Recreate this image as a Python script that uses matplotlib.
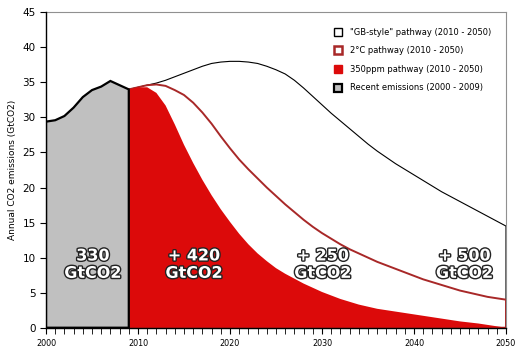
import matplotlib
matplotlib.use("Agg")
import matplotlib.pyplot as plt
import matplotlib.patheffects as pe
from matplotlib.lines import Line2D
from matplotlib.ticker import MultipleLocator

# recent emissions 2000-2009 (GtCO2)
recent_years = list(range(2000, 2010))
recent = [29.4, 29.6, 30.2, 31.4, 32.9, 33.9, 34.4, 35.2, 34.6, 34.0]

# pathways 2009-2050
path_years = list(range(2009, 2051))
gb_style = [34.0, 34.3, 34.6, 34.9, 35.3, 35.8, 36.3, 36.8, 37.3, 37.7,
            37.9, 38.0, 38.0, 37.9, 37.7, 37.3, 36.8, 36.2, 35.3, 34.2,
            33.0, 31.8, 30.6, 29.5, 28.4, 27.3, 26.2, 25.2, 24.3, 23.4,
            22.6, 21.8, 21.0, 20.2, 19.4, 18.7, 18.0, 17.3, 16.6, 15.9,
            15.2, 14.5]
two_deg = [34.0, 34.3, 34.6, 34.7, 34.5, 33.9, 33.2, 32.1, 30.7, 29.1,
           27.3, 25.6, 24.0, 22.6, 21.3, 20.0, 18.8, 17.6, 16.5, 15.4,
           14.4, 13.5, 12.7, 11.9, 11.2, 10.6, 10.0, 9.4, 8.9, 8.4,
           7.9, 7.4, 6.9, 6.5, 6.1, 5.7, 5.3, 5.0, 4.7, 4.4,
           4.2, 4.0]
ppm350 = [34.0, 34.3, 34.3, 33.5, 31.7, 29.0, 26.1, 23.5, 21.1, 18.9,
          16.9, 15.1, 13.4, 11.9, 10.6, 9.5, 8.5, 7.7, 7.0, 6.3,
          5.7, 5.1, 4.6, 4.1, 3.7, 3.3, 3.0, 2.7, 2.5, 2.3,
          2.1, 1.9, 1.7, 1.5, 1.3, 1.1, 0.9, 0.75, 0.6, 0.4,
          0.2, 0.0]

labels = ['"GB-style" pathway (2010 - 2050)', '2°C pathway (2010 - 2050)',
          '350ppm pathway (2010 - 2050)', 'Recent emissions (2000 - 2009)']
totals = ["330\nGtCO2", "+ 420\nGtCO2", "+ 250\nGtCO2", "+ 500\nGtCO2"]
total_x = [2005.1, 2016.1, 2030.1, 2045.5]

red = "#DC0a0a"
darkred = "#A82828"
grey = "#C0C0C0"

fig = plt.figure(figsize=(5.22, 3.48), dpi=100)
ax = fig.add_axes([0.0881, 0.0583, 0.8812, 0.9064])

# GB-style area outline
ax.fill(path_years + [2050, 2009], gb_style + [0, 0], facecolor="white",
        edgecolor="black", linewidth=0.8, zorder=1)
# 2 degree area
ax.fill(path_years + [2050, 2009], two_deg + [0, 0], facecolor="white",
        edgecolor=darkred, linewidth=1.4, zorder=2)
# 350ppm area
ax.fill_between(path_years, ppm350, 0, facecolor=red, edgecolor="none",
                zorder=3)
# recent emissions
ax.fill(recent_years + [2009, 2000], recent + [0, 0], facecolor=grey,
        edgecolor="black", linewidth=1.6, zorder=4)

for x, t in zip(total_x, totals):
    ax.text(x, 9.0, t, ha="center", va="center", fontsize=11.5,
            fontweight="bold", color="white", linespacing=1.2,
            zorder=6,
            path_effects=[pe.withStroke(linewidth=2, foreground="#222222")])

ax.set_xlim(2000, 2050)
ax.set_ylim(0, 45)
ax.xaxis.set_major_locator(MultipleLocator(10))
ax.xaxis.set_minor_locator(MultipleLocator(1))
ax.yaxis.set_major_locator(MultipleLocator(5))
ax.tick_params(axis="x", which="both", direction="out", length=4,
               labelsize=5.8, pad=4)
ax.tick_params(axis="y", direction="out", length=4, labelsize=7.5)
ax.set_ylabel("Annual CO2 emissions (GtCO2)", fontsize=6.5, labelpad=4)

for s in ["top", "right"]:
    ax.spines[s].set_color("#909090")
    ax.spines[s].set_linewidth(0.8)
for s in ["left", "bottom"]:
    ax.spines[s].set_linewidth(1.0)
    ax.spines[s].set_zorder(7)

handles = [
    Line2D([], [], ls="none", marker="s", ms=6, mfc="white", mec="black", mew=1.0),
    Line2D([], [], ls="none", marker="s", ms=6, mfc="white", mec=darkred, mew=1.8),
    Line2D([], [], ls="none", marker="s", ms=6, mfc=red, mec=red, mew=1.0),
    Line2D([], [], ls="none", marker="s", ms=6, mfc=grey, mec="black", mew=1.6),
]
ax.legend(handles, labels, loc="upper right", frameon=False, fontsize=6.0,
          handlelength=1.0, handletextpad=1.0, labelspacing=1.15,
          bbox_to_anchor=(0.985, 0.975))

fig.savefig("out.png", dpi=100)
